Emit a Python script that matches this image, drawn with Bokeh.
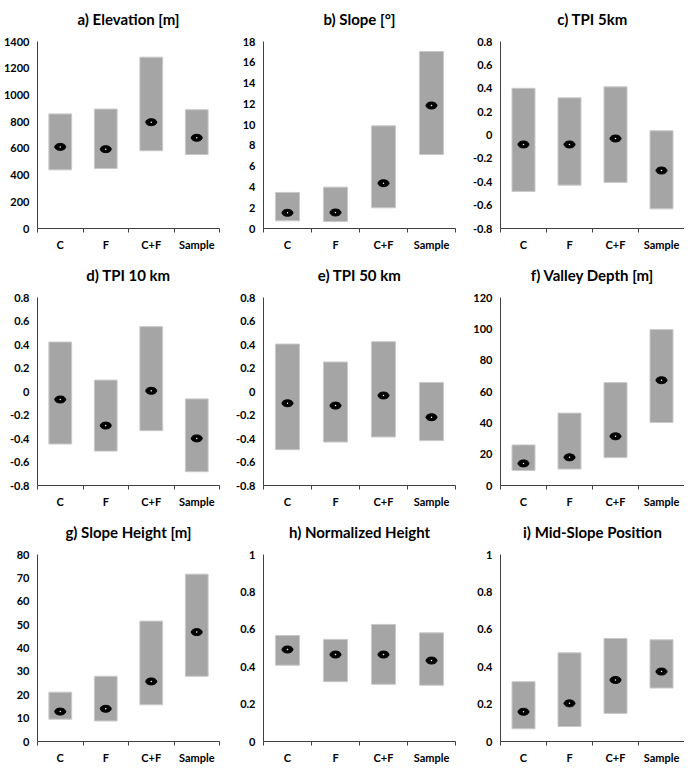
from bokeh.plotting import figure
from bokeh.layouts import gridplot
from bokeh.models import Range1d, FixedTicker, ColumnDataSource, Title
from bokeh.embed import file_html
from bokeh.resources import INLINE

categories = ["C", "F", "C+F", "Sample"]

elevation_low = [439, 449, 582, 554]
elevation_high = [858, 894, 1283, 889]
elevation_mean = [611, 594, 796, 679]

slope_low = [0.74, 0.67, 1.99, 7.12]
slope_high = [3.47, 3.98, 9.88, 17.04]
slope_mean = [1.51, 1.54, 4.36, 11.84]

tpi5_low = [-0.483, -0.429, -0.406, -0.632]
tpi5_high = [0.400, 0.318, 0.412, 0.036]
tpi5_mean = [-0.081, -0.081, -0.030, -0.304]

tpi10_low = [-0.447, -0.507, -0.333, -0.683]
tpi10_high = [0.421, 0.097, 0.552, -0.063]
tpi10_mean = [-0.068, -0.290, 0.006, -0.399]

tpi50_low = [-0.495, -0.430, -0.387, -0.418]
tpi50_high = [0.404, 0.251, 0.424, 0.077]
tpi50_mean = [-0.100, -0.120, -0.034, -0.219]

valley_low = [9.6, 10.5, 17.8, 40.2]
valley_high = [25.9, 46.2, 65.7, 99.5]
valley_mean = [14.1, 18.0, 31.4, 67.2]

slopeh_low = [9.55, 8.8, 15.7, 27.9]
slopeh_high = [21.1, 27.9, 51.5, 71.6]
slopeh_mean = [12.8, 14.0, 25.7, 46.8]

normh_low = [0.408, 0.320, 0.306, 0.301]
normh_high = [0.567, 0.546, 0.626, 0.581]
normh_mean = [0.492, 0.465, 0.465, 0.433]

midslope_low = [0.068, 0.080, 0.150, 0.286]
midslope_high = [0.320, 0.474, 0.551, 0.544]
midslope_mean = [0.159, 0.204, 0.329, 0.374]

titles = ["a) Elevation [m]", "b) Slope [°]", "c) TPI 5km",
          "d) TPI 10 km", "e) TPI 50 km", "f) Valley Depth [m]",
          "g) Slope Height [m]", "h) Normalized Height", "i) Mid-Slope Position"]

ticks_elevation = [0, 200, 400, 600, 800, 1000, 1200, 1400]
ticks_slope = [0, 2, 4, 6, 8, 10, 12, 14, 16, 18]
ticks_tpi = [-0.8, -0.6, -0.4, -0.2, 0, 0.2, 0.4, 0.6, 0.8]
ticks_valley = [0, 20, 40, 60, 80, 100, 120]
ticks_slopeh = [0, 10, 20, 30, 40, 50, 60, 70, 80]
ticks_unit = [0, 0.2, 0.4, 0.6, 0.8, 1]

panel_data = [
    (elevation_low, elevation_high, elevation_mean, ticks_elevation),
    (slope_low, slope_high, slope_mean, ticks_slope),
    (tpi5_low, tpi5_high, tpi5_mean, ticks_tpi),
    (tpi10_low, tpi10_high, tpi10_mean, ticks_tpi),
    (tpi50_low, tpi50_high, tpi50_mean, ticks_tpi),
    (valley_low, valley_high, valley_mean, ticks_valley),
    (slopeh_low, slopeh_high, slopeh_mean, ticks_slopeh),
    (normh_low, normh_high, normh_mean, ticks_unit),
    (midslope_low, midslope_high, midslope_mean, ticks_unit),
]

# layout: sizes and borders per row / column
col_w = [232, 226, 226]
row_h = [262, 257, 248]
row_tb = [(41, 34), (35, 34), (35, 26)]
lefts = [[33, 24, 42], [27, 31, 41], [21, 28, 38]]
rights = [[13, 3, 0], [2, 1, 0], [12, 1, 0]]
title_offsets = [[-15, -8, -8], [-18, -12, -8], [-9, -10, -6]]
title_gap = 11

FONT = "Lato"
BAR_FILL = "#a5a5a5"
BAR_LINE = "#c9c9c9"
AXIS_COLOR = "#404040"


def fmt(v):
    return "%g" % v


def make_panel(idx):
    r, c = divmod(idx, 3)
    low, high, mean, yticks = panel_data[idx]
    top, bottom = row_tb[r]
    n = len(categories)
    p = figure(width=col_w[c], height=row_h[r],
               x_range=Range1d(0, n), y_range=Range1d(yticks[0], yticks[-1]),
               output_backend="svg", toolbar_location=None,
               min_border_left=lefts[r][c], min_border_right=rights[r][c],
               min_border_top=top, min_border_bottom=bottom)
    p.outline_line_color = None
    p.background_fill_color = "white"
    p.border_fill_color = "white"
    p.xgrid.visible = False
    p.ygrid.visible = False

    # thin empty spacer between frame and title
    p.add_layout(Title(text=" ", text_font_size="1px", standoff=title_gap), "above")

    p.title.text = titles[idx]
    p.title.align = "center"
    p.title.text_font = FONT
    p.title.text_font_size = "15px"
    p.title.text_font_style = "bold"
    p.title.text_color = "black"
    p.title.standoff = 0
    p.title.offset = title_offsets[r][c]

    xs = [i + 0.5 for i in range(n)]
    src = ColumnDataSource(dict(x=xs, low=low, high=high, mean=mean, cat=categories))
    p.vbar(x="x", bottom="low", top="high", width=0.5, source=src,
           fill_color=BAR_FILL, line_color=BAR_LINE, line_width=1)
    p.ellipse(x="x", y="mean", width=11, height=7, width_units="screen",
              height_units="screen", fill_color="black", line_color="black", source=src)
    p.scatter(x="x", y="mean", size=1.5, fill_color="white", line_color=None, source=src)

    xa = p.xaxis[0]
    xa.ticker = FixedTicker(ticks=xs, minor_ticks=list(range(n + 1)))
    xa.major_label_overrides = {x: cat for x, cat in zip(xs, categories)}
    xa.major_tick_out = 0
    xa.major_tick_in = 0
    xa.minor_tick_out = 4
    xa.minor_tick_in = 0
    xa.minor_tick_line_color = AXIS_COLOR
    xa.axis_line_color = AXIS_COLOR
    xa.major_label_standoff = 5
    xa.major_label_text_font = FONT
    xa.major_label_text_font_size = "11px"
    xa.major_label_text_font_style = "bold"
    xa.major_label_text_color = "black"

    ya = p.yaxis[0]
    ya.ticker = FixedTicker(ticks=yticks, minor_ticks=[])
    ya.major_label_overrides = {t: fmt(t) for t in yticks}
    ya.major_tick_out = 0
    ya.major_tick_in = 0
    ya.minor_tick_out = 0
    ya.minor_tick_in = 0
    ya.axis_line_color = AXIS_COLOR
    ya.major_label_standoff = 8
    ya.major_label_text_font = FONT
    ya.major_label_text_font_size = "11px"
    ya.major_label_text_font_style = "bold"
    ya.major_label_text_color = "black"
    return p


panels = [make_panel(i) for i in range(9)]
grid = gridplot([panels[0:3], panels[3:6], panels[6:9]], toolbar_location=None)

open("out.html", "w").write(file_html(grid, INLINE))
